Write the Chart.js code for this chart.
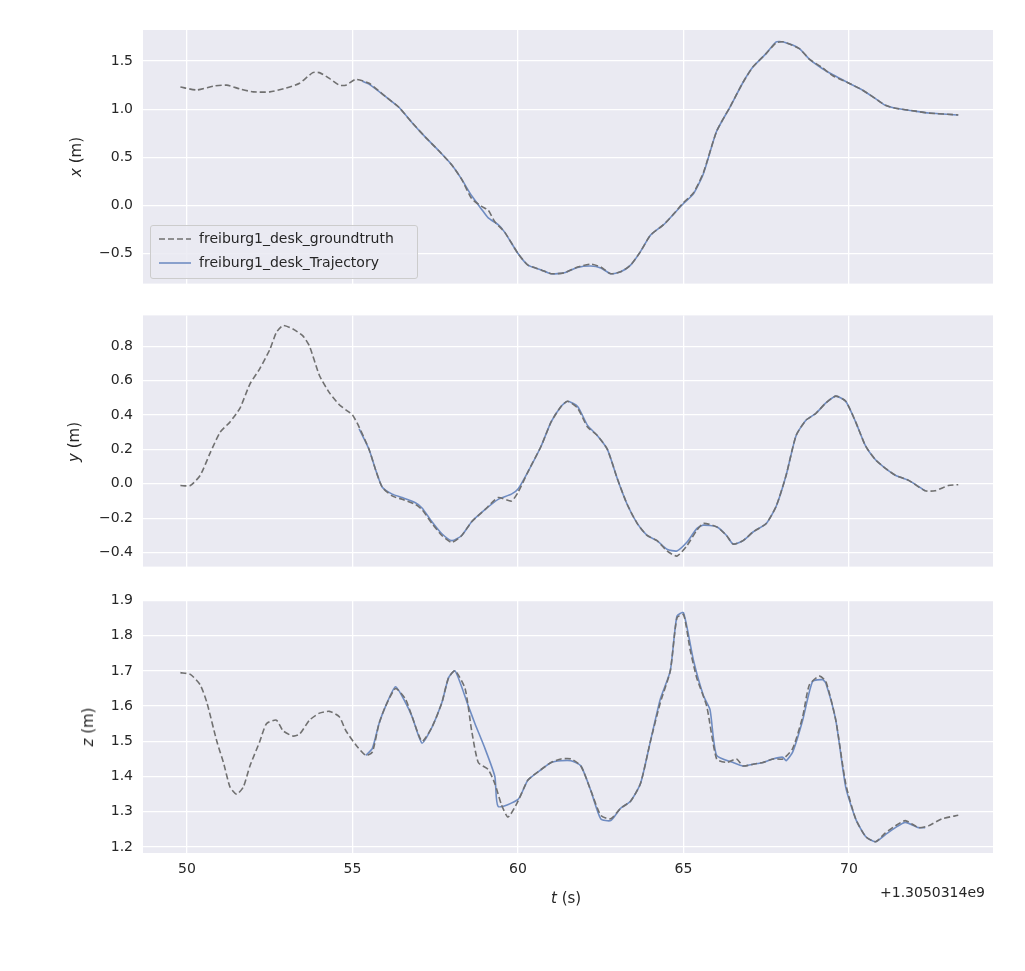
<!DOCTYPE html>
<html><head><meta charset="utf-8">
<script src="https://cdn.jsdelivr.net/npm/chart.js@4"></script>
<style>
body{margin:0;background:#fff;font-family:"DejaVu Sans",sans-serif;color:#262626;}
.c{position:absolute;left:0;width:1025px;}
.lab{position:absolute;font-size:15px;color:#262626;white-space:nowrap;}
.rot{transform:translate(-50%,-50%) rotate(-90deg);}
#legend{position:absolute;left:150px;top:225px;width:266px;height:52px;border:1px solid #ccc;border-radius:3px;background:rgba(234,234,242,0.85);font-size:14px;}
#legend div{position:absolute;left:48px;}
#legend svg{position:absolute;left:8px;}
</style></head><body>
<div class="c" style="top:0;height:302px"><canvas id="c1"></canvas></div>
<div class="c" style="top:297px;height:288px"><canvas id="c2"></canvas></div>
<div class="c" style="top:582px;height:389px"><canvas id="c3"></canvas></div>
<div class="lab rot" style="left:76px;top:157px"><i>x</i> (m)</div>
<div class="lab rot" style="left:74px;top:442px"><i>y</i> (m)</div>
<div class="lab rot" style="left:88px;top:727px"><i>z</i> (m)</div>
<div class="lab" style="left:551px;top:889px"><i>t</i> (s)</div>
<div class="lab" style="left:880px;top:884px;font-size:14px">+1.3050314e9</div>
<div id="legend">
<svg width="36" height="52" style="top:0"><line x1="0" y1="13" x2="32" y2="13" stroke="#707070" stroke-width="1.6" stroke-dasharray="6,3"/><line x1="0" y1="37" x2="32" y2="37" stroke="#6f8cc2" stroke-width="1.6"/></svg>
<div style="top:4px">freiburg1_desk_groundtruth</div>
<div style="top:28px">freiburg1_desk_Trajectory</div>
</div>
<script>
const xTicks=[50,55,60,65,70];
const xPanelTicks=[-0.5,0,0.5,1,1.5];
const yPanelTicks=[-0.4,-0.2,0,0.2,0.4,0.6,0.8];
const zPanelTicks=[1.2,1.3,1.4,1.5,1.6,1.7,1.8,1.9];
const gtX=[[49.8,1.23],[50.3,1.2],[50.8,1.24],[51.2,1.25],[51.6,1.21],[52,1.18],[52.5,1.18],[53,1.22],[53.4,1.27],[53.8,1.38],[54,1.38],[54.3,1.32],[54.6,1.25],[54.8,1.25],[55.1,1.31],[55.5,1.27],[56,1.13],[56.4,1.02],[56.8,0.86],[57.2,0.71],[57.6,0.57],[58,0.42],[58.3,0.27],[58.6,0.07],[58.9,-0.01],[59.1,-0.05],[59.3,-0.17],[59.6,-0.28],[60,-0.5],[60.3,-0.62],[60.7,-0.67],[61,-0.71],[61.4,-0.7],[61.8,-0.64],[62.2,-0.61],[62.5,-0.64],[62.8,-0.71],[63.1,-0.69],[63.4,-0.62],[63.7,-0.48],[64,-0.31],[64.4,-0.2],[64.7,-0.09],[65,0.03],[65.3,0.13],[65.6,0.34],[66,0.77],[66.4,1.02],[66.8,1.28],[67.1,1.44],[67.5,1.58],[67.8,1.69],[68,1.7],[68.5,1.63],[68.8,1.52],[69.2,1.43],[69.5,1.35],[70,1.27],[70.4,1.2],[70.8,1.11],[71.1,1.04],[71.4,1.01],[72,0.98],[72.4,0.96],[73.3,0.94]];
const trX=[[55.3,1.29],[55.5,1.26],[56,1.13],[56.4,1.02],[56.8,0.86],[57.2,0.71],[57.6,0.57],[58,0.42],[58.3,0.27],[58.6,0.1],[58.9,-0.04],[59.1,-0.13],[59.4,-0.2],[59.6,-0.28],[60,-0.5],[60.3,-0.62],[60.7,-0.67],[61,-0.71],[61.4,-0.7],[61.8,-0.645],[62.2,-0.63],[62.5,-0.65],[62.8,-0.71],[63.1,-0.69],[63.4,-0.62],[63.7,-0.48],[64,-0.31],[64.4,-0.2],[64.7,-0.09],[65,0.02],[65.3,0.12],[65.6,0.33],[66,0.77],[66.4,1.02],[66.8,1.28],[67.1,1.44],[67.5,1.58],[67.8,1.7],[68,1.7],[68.5,1.63],[68.8,1.52],[69.2,1.42],[69.5,1.36],[70,1.27],[70.4,1.2],[70.8,1.11],[71.1,1.04],[71.4,1.01],[72,0.98],[72.4,0.96],[73.3,0.94]];
const gtY=[[49.8,-0.01],[50.1,-0.01],[50.4,0.05],[50.7,0.18],[51,0.3],[51.3,0.36],[51.6,0.44],[51.9,0.58],[52.2,0.67],[52.5,0.78],[52.7,0.88],[52.9,0.92],[53.2,0.9],[53.5,0.86],[53.7,0.8],[54,0.63],[54.3,0.53],[54.6,0.46],[54.8,0.43],[55,0.4],[55.2,0.33],[55.5,0.2],[55.7,0.08],[55.9,-0.02],[56.2,-0.07],[56.5,-0.09],[56.9,-0.12],[57.1,-0.15],[57.4,-0.23],[57.7,-0.3],[58,-0.34],[58.3,-0.3],[58.6,-0.22],[59,-0.15],[59.4,-0.08],[59.8,-0.1],[60,-0.05],[60.3,0.07],[60.7,0.22],[61,0.36],[61.3,0.45],[61.5,0.48],[61.8,0.44],[62.1,0.33],[62.4,0.28],[62.7,0.2],[63,0.03],[63.3,-0.12],[63.6,-0.23],[63.9,-0.3],[64.2,-0.33],[64.5,-0.39],[64.8,-0.42],[65.1,-0.36],[65.4,-0.27],[65.6,-0.23],[66,-0.25],[66.3,-0.3],[66.5,-0.35],[66.8,-0.33],[67.1,-0.28],[67.5,-0.23],[67.8,-0.13],[68.1,0.05],[68.4,0.28],[68.7,0.37],[69,0.41],[69.3,0.47],[69.6,0.51],[69.9,0.48],[70.2,0.36],[70.5,0.22],[70.8,0.14],[71.1,0.09],[71.4,0.05],[71.8,0.02],[72.3,-0.04],[72.6,-0.04],[73,-0.01],[73.3,-0.005]];
const trY=[[55.2,0.32],[55.5,0.2],[55.7,0.08],[55.9,-0.02],[56.2,-0.06],[56.5,-0.08],[56.9,-0.11],[57.1,-0.14],[57.4,-0.22],[57.7,-0.29],[58,-0.33],[58.3,-0.3],[58.6,-0.22],[59,-0.15],[59.4,-0.09],[59.8,-0.06],[60,-0.03],[60.3,0.07],[60.7,0.22],[61,0.36],[61.3,0.45],[61.5,0.48],[61.8,0.45],[62.1,0.34],[62.4,0.28],[62.7,0.2],[63,0.03],[63.3,-0.12],[63.6,-0.23],[63.9,-0.3],[64.2,-0.33],[64.5,-0.38],[64.8,-0.39],[65.1,-0.34],[65.4,-0.26],[65.6,-0.24],[66,-0.25],[66.3,-0.3],[66.5,-0.35],[66.8,-0.33],[67.1,-0.28],[67.5,-0.23],[67.8,-0.13],[68.1,0.05],[68.4,0.28],[68.7,0.37],[69,0.41],[69.3,0.47],[69.6,0.51],[69.9,0.48],[70.2,0.36],[70.5,0.22],[70.8,0.14],[71.1,0.09],[71.4,0.05],[71.8,0.02],[72.3,-0.04]];
const gtZ=[[49.8,1.695],[50.1,1.69],[50.4,1.66],[50.6,1.61],[50.9,1.5],[51.1,1.44],[51.3,1.37],[51.5,1.35],[51.7,1.37],[51.9,1.43],[52.2,1.5],[52.4,1.55],[52.7,1.56],[52.9,1.53],[53.2,1.515],[53.4,1.52],[53.7,1.56],[54,1.58],[54.3,1.585],[54.6,1.57],[54.8,1.53],[55.1,1.49],[55.4,1.46],[55.6,1.47],[55.8,1.55],[56,1.6],[56.3,1.65],[56.6,1.62],[56.8,1.57],[57.1,1.5],[57.4,1.54],[57.7,1.61],[57.9,1.68],[58.1,1.7],[58.4,1.65],[58.6,1.53],[58.8,1.44],[59.1,1.42],[59.3,1.38],[59.5,1.32],[59.7,1.285],[60,1.33],[60.3,1.39],[60.7,1.42],[61,1.44],[61.3,1.45],[61.6,1.45],[61.9,1.43],[62.2,1.36],[62.5,1.29],[62.8,1.28],[63.1,1.31],[63.4,1.33],[63.7,1.38],[64,1.5],[64.3,1.61],[64.6,1.7],[64.8,1.85],[65,1.86],[65.2,1.76],[65.4,1.68],[65.7,1.6],[66,1.45],[66.3,1.44],[66.6,1.45],[66.8,1.43],[67.1,1.435],[67.4,1.44],[67.7,1.45],[68,1.45],[68.3,1.48],[68.6,1.57],[68.8,1.66],[69.1,1.685],[69.3,1.67],[69.6,1.56],[69.9,1.38],[70.2,1.28],[70.5,1.23],[70.8,1.215],[71.1,1.24],[71.4,1.26],[71.7,1.275],[72.1,1.255],[72.4,1.26],[72.8,1.28],[73.3,1.29]];
const trZ=[[55.4,1.46],[55.6,1.48],[55.8,1.55],[56,1.6],[56.3,1.655],[56.6,1.61],[56.8,1.57],[57.1,1.495],[57.4,1.54],[57.7,1.61],[57.9,1.68],[58.1,1.7],[58.5,1.6],[58.7,1.55],[59,1.48],[59.3,1.4],[59.4,1.315],[60,1.335],[60.3,1.39],[60.7,1.42],[61,1.44],[61.3,1.445],[61.6,1.445],[61.9,1.43],[62.2,1.36],[62.5,1.28],[62.8,1.275],[63.1,1.31],[63.4,1.33],[63.7,1.38],[64,1.5],[64.3,1.62],[64.6,1.7],[64.8,1.855],[65,1.865],[65.3,1.73],[65.6,1.63],[65.8,1.59],[66,1.46],[66.5,1.44],[66.8,1.43],[67.1,1.435],[67.4,1.44],[67.7,1.45],[68,1.455],[68.1,1.445],[68.3,1.47],[68.6,1.56],[68.9,1.67],[69.2,1.675],[69.3,1.665],[69.6,1.56],[69.9,1.37],[70.2,1.28],[70.5,1.23],[70.8,1.215],[71.1,1.235],[71.4,1.255],[71.7,1.27],[72.1,1.255],[72.3,1.255]];
const pts=a=>a.map(p=>({x:p[0],y:p[1]}));
const bg={id:'bg',beforeDraw(c){const a=c.chartArea,x=c.ctx;x.save();x.fillStyle='#eaeaf2';x.fillRect(a.left,a.top,a.right-a.left,a.bottom-a.top);x.restore();}};
function make(id,gt,tr,ymin,ymax,yt,showX,top){
 new Chart(document.getElementById(id),{type:'line',
 data:{datasets:[
  {data:pts(gt),borderColor:'#707070',borderDash:[6,3],borderWidth:1.6,pointRadius:0,tension:0.2},
  {data:pts(tr),borderColor:'#6f8cc2',borderWidth:1.6,pointRadius:0,tension:0.2}]},
 options:{responsive:true,maintainAspectRatio:false,animation:false,
  layout:{padding:{left:0,right:32,top:top,bottom:0}},
  plugins:{legend:{display:false},tooltip:{enabled:false}},
  scales:{
   x:{type:'linear',min:48.67,max:74.35,afterBuildTicks:s=>{s.ticks=xTicks.map(v=>({value:v}));},
    afterFit:s=>{s.height=showX?118:17;},
    grid:{color:'#fff',lineWidth:1.3,drawTicks:false},border:{display:false},
    ticks:{display:showX,color:'#262626',font:{size:14,family:'DejaVu Sans'},padding:8,maxRotation:0}},
   y:{min:ymin,max:ymax,afterBuildTicks:s=>{s.ticks=yt.map(v=>({value:v}));},
    afterFit:s=>{s.width=143;},
    grid:{color:'#fff',lineWidth:1.3,drawTicks:false},border:{display:false},
    ticks:{color:'#262626',font:{size:14,family:'DejaVu Sans'},padding:10,callback:v=>{const r=Math.round(v*10)/10;return r.toFixed(1).replace('-','\u2212');}}}}},
 plugins:[bg]});
}
make('c1',gtX,trX,-0.8125,1.823,xPanelTicks,false,30);
make('c2',gtY,trY,-0.481,0.979,yPanelTicks,false,12);
make('c3',gtZ,trZ,1.183,1.9,zPanelTicks,true,12);
</script></body></html>
